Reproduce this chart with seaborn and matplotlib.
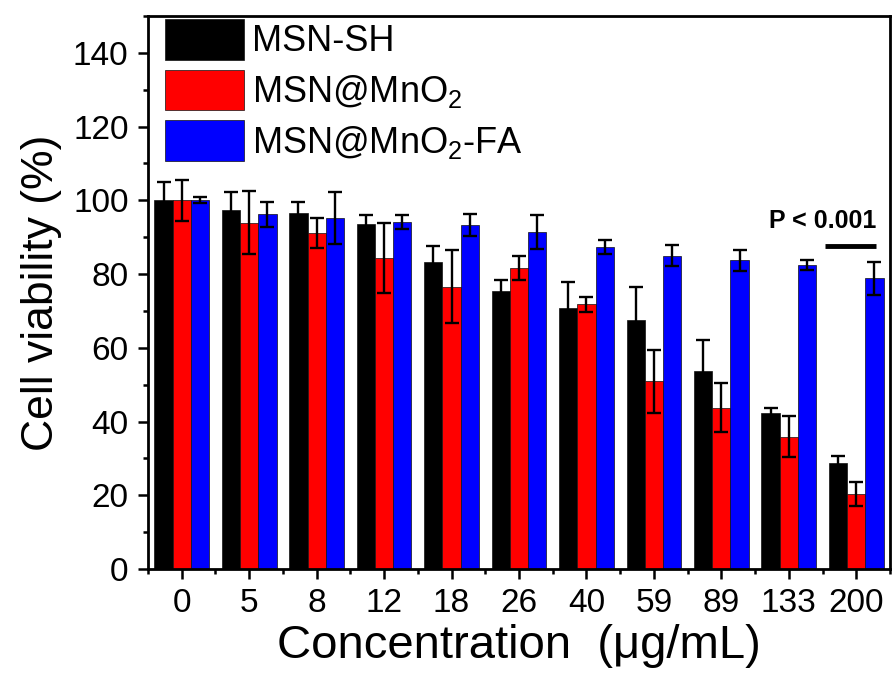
import numpy as np
import pandas as pd
import seaborn as sns
import matplotlib.pyplot as plt
from matplotlib.ticker import MultipleLocator, FixedLocator

# concentrations (ug/mL) and mean viability / error for each material
concentrations = ["0", "5", "8", "12", "18", "26", "40", "59", "89", "133", "200"]
msn_sh = [100, 97.3, 96.6, 93.5, 83.3, 75.3, 70.8, 67.6, 53.6, 42.3, 28.7]
msn_sh_err = [5, 5, 3, 2.6, 4.3, 3.2, 7, 8.8, 8.6, 1.4, 1.9]
msn_mno2 = [100, 93.9, 91.1, 84.3, 76.6, 81.6, 71.8, 50.9, 43.8, 35.9, 20.4]
msn_mno2_err = [5.5, 8.5, 4, 9.5, 10, 3.3, 2, 8.5, 6.6, 5.5, 3.2]
msn_mno2_fa = [100, 96.2, 95.2, 94.1, 93.2, 91.4, 87.4, 85, 83.7, 82.4, 78.8]
msn_mno2_fa_err = [0.8, 3.3, 7, 2, 3, 4.5, 1.9, 2.9, 2.9, 1.4, 4.4]

labels = ["MSN-SH", "MSN@MnO$_2$", "MSN@MnO$_2$-FA"]
colors = ["#000000", "#ff0000", "#0000ff"]

df = pd.DataFrame({
    "conc": concentrations * 3,
    "viability": msn_sh + msn_mno2 + msn_mno2_fa,
    "err": msn_sh_err + msn_mno2_err + msn_mno2_fa_err,
    "sample": [labels[0]] * 11 + [labels[1]] * 11 + [labels[2]] * 11,
})

sns.set_style("ticks")
plt.rcParams["font.family"] = ["Liberation Sans", "DejaVu Sans"]
plt.rcParams["mathtext.fontset"] = "custom"
plt.rcParams["mathtext.rm"] = "Liberation Sans"
plt.rcParams["mathtext.it"] = "Liberation Sans:italic"
for key in ["text.color", "axes.labelcolor", "xtick.color", "ytick.color", "axes.edgecolor"]:
    plt.rcParams[key] = "black"

fig = plt.figure(figsize=(8.92, 6.77), dpi=100)
ax = fig.add_axes([148 / 892, 108 / 677, 742 / 892, 553 / 677])

sns.barplot(data=df, x="conc", y="viability", hue="sample", palette=colors,
            order=concentrations, hue_order=labels, errorbar=None, width=0.81,
            edgecolor="#111111", linewidth=0.5, saturation=1, ax=ax)

# error bars on top of each bar
for cont, lab in zip(ax.containers, labels):
    sub = df[df["sample"] == lab]
    xs = [p.get_x() + p.get_width() / 2 for p in cont.patches]
    ax.errorbar(xs, sub["viability"].values, yerr=sub["err"].values, fmt="none",
                ecolor="black", elinewidth=1.7, capsize=4.8, capthick=1.7, zorder=3)

ax.set_xlim(-0.5, 10.5)
ax.set_ylim(0, 150)
ax.set_yticks(np.arange(0, 141, 20))
ax.yaxis.set_minor_locator(MultipleLocator(10))
ax.xaxis.set_minor_locator(FixedLocator(np.arange(-0.5, 10.6, 1)))

for s in ax.spines.values():
    s.set_linewidth(2)
    s.set_visible(True)
ax.tick_params(which="major", direction="out", length=7, width=1.8, labelsize=24, pad=7)
ax.tick_params(which="minor", direction="out", length=3.6, width=1.8)

ax.set_xlabel("Concentration  (μg/mL)", fontsize=34)
ax.set_ylabel("Cell viability (%)", fontsize=32)
ax.xaxis.set_label_coords(0.5, -0.10)
ax.yaxis.set_label_coords(-0.116, 0.5)

# significance marker
ax.text(9.5, 94.3, "P < 0.001", ha="center", va="center", fontsize=18, fontweight="bold")
ax.plot([9.54, 10.29], [87.5, 87.5], color="black", lw=3.5, solid_capstyle="butt")

handles, _ = ax.get_legend_handles_labels()
ax.legend(handles, labels, loc="upper left", bbox_to_anchor=(17 / 742, 1 - 3 / 553),
          frameon=False, fontsize=26, handlelength=2.2, handleheight=1.35,
          handletextpad=0.2, labelspacing=0.28, borderpad=0, borderaxespad=0)

plt.savefig("out.png", dpi=100)
